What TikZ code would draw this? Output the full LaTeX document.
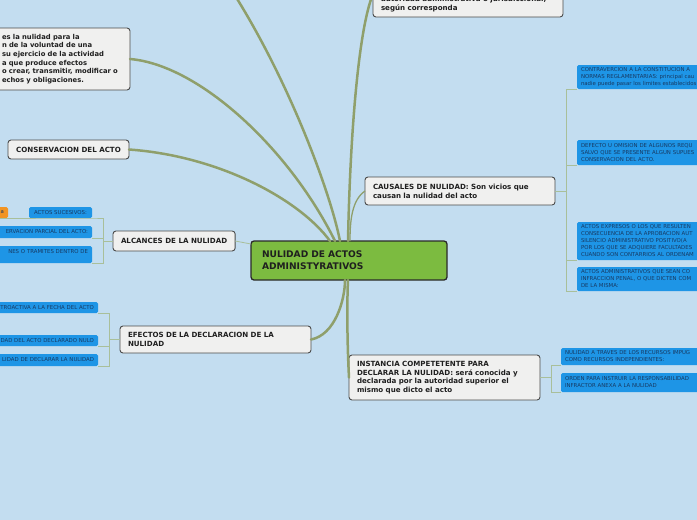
\documentclass[tikz,border=0pt]{standalone}
\usepackage{fontspec}
\setmainfont{DejaVu Sans}
\definecolor{mapbg}{HTML}{C3DDF0}
\definecolor{mapolive}{HTML}{8F9F6B}
\definecolor{twigline}{HTML}{A9BF9A}
\definecolor{topicfill}{HTML}{F0F0EF}
\definecolor{topicline}{HTML}{4A4A4A}
\definecolor{topicink}{HTML}{1F1F1F}
\definecolor{hubgreen}{HTML}{7CBB40}
\definecolor{hubline}{HTML}{2A2A2A}
\definecolor{leafblue}{HTML}{1E95E6}
\definecolor{leafink}{HTML}{173A63}
\definecolor{leaforange}{HTML}{F29422}
\newcommand\topicfont{\fontsize{7.1}{8.7}\selectfont\bfseries}
\newcommand\narrowfont{\fontsize{6.8}{8.7}\selectfont\bfseries}
\newcommand\hubfont{\fontsize{9.1}{12}\selectfont\bfseries}
\newcommand\leaffont{\fontsize{5.4}{7}\selectfont}

\begin{document}
\begin{tikzpicture}[
  x=1pt,
  y=-1pt,
  every node/.style={inner sep=0pt, outer sep=0pt},
  hubbox/.style={draw=hubline, fill=hubgreen, line width=1.3pt, rounded corners=3pt,
    font=\hubfont, text=topicink, align=left, inner xsep=11pt, anchor=north west},
  topic/.style={draw=topicline, fill=topicfill, line width=0.9pt, rounded corners=3pt,
    font=\topicfont, text=topicink, align=left, inner xsep=8pt, anchor=north west},
  leaf/.style={fill=leafblue, rounded corners=1.5pt, font=\leaffont, text=leafink,
    align=left, inner xsep=4pt, anchor=north west},
  leftleaf/.style={leaf, align=right, anchor=north east, text width=120pt},
  branch/.style={mapolive, line width=2.5pt, line cap=round},
  thinbranch/.style={mapolive, line width=1.3pt},
  twig/.style={twigline, line width=0.8pt}
]
  % ---- the sheet ------------------------------------------------------
  \useasboundingbox (0,0) rectangle (697,520);
  \clip (0,0) rectangle (697,520);
  \fill[mapbg] (0,0) rectangle (697,520);

  % ---- the central topic ----------------------------------------------
  \node[hubbox, text width=174pt, minimum height=39pt] (hub) at (251,241)
    {NULIDAD DE ACTOS\\ADMINISTYRATIVOS};

  % ---- main topics ----------------------------------------------------
  \node[topic, font=\narrowfont, anchor=north east, text width=120pt, minimum height=62pt]
    (defin) at (130,28)
    {es la nulidad para la\\n de la voluntad de una\\su ejercicio de la actividad\\
     a que produce efectos\\o crear, transmitir, modificar o\\echos y obligaciones.};
  \node[topic, anchor=south west, text width=174pt, minimum height=26pt] (above) at (373,17)
    {autoridad administrativa o jurisdiccional,\\según corresponda};
  \node[topic, align=center, minimum width=121pt, minimum height=19pt] (conserv) at (8,140)
    {CONSERVACION DEL ACTO};
  \node[topic, text width=174pt, minimum height=28pt] (causal) at (365,177)
    {CAUSALES DE NULIDAD: Son vicios que\\causan la nulidad del acto};
  \node[topic, align=center, minimum width=122pt, minimum height=20pt] (alcance) at (113,231)
    {ALCANCES DE LA NULIDAD};
  \node[topic, text width=175pt, minimum height=27pt] (efecto) at (120,326)
    {EFECTOS DE LA DECLARACION DE LA\\NULIDAD};
  \node[topic, text width=175pt, minimum height=45pt] (instancia) at (349,355)
    {INSTANCIA COMPETETENTE PARA\\DECLARAR LA NULIDAD: será conocida y\\
     declarada por la autoridad superior el\\mismo que dicto el acto};

  % ---- branches out of the centre -------------------------------------
  \coordinate (offtop) at (225,-20);
  \draw[branch] (offtop) .. controls (285,70) and (330,190) .. ([xshift=89pt]hub.north west);
  \draw[branch] (defin.east) .. controls (200,65) and (290,150) .. ([xshift=84pt]hub.north west);
  \draw[branch] (conserv.east) .. controls (220,156) and (300,200) .. ([xshift=79pt]hub.north west);
  \draw[branch] ([yshift=10pt]above.west) .. controls (358,30) and (350,140)
    .. ([xshift=97pt]hub.north west);
  \draw[thinbranch] (causal.west) .. controls (352,200) and (350,220) .. ([xshift=99pt]hub.north west);
  \draw[twig] (alcance.east) -- ([yshift=-3pt]hub.north west);
  \draw[branch] (efecto.east) .. controls (335,335) and (345,300) .. ([xshift=94pt]hub.south west);
  \draw[branch] (instancia.west) .. controls (347,340) and (347,300) .. ([xshift=97pt]hub.south west);

  % ---- causes ---------------------------------------------------------
  \node[leaf, text width=155pt, minimum height=24pt] (cau1) at (577,65)
    {CONTRAVERCION A LA CONSTITUCION A\\NORMAS REGLAMENTARIAS: principal cau\\
     nadie puede pasar los limites establecidos};
  \node[leaf, text width=155pt, minimum height=25pt] (cau2) at (577,140)
    {DEFECTO U OMISION DE ALGUNOS REQU\\SALVO QUE SE PRESENTE ALGUN SUPUES\\
     CONSERVACION DEL ACTO.};
  \node[leaf, text width=155pt, minimum height=38pt] (cau3) at (577,222)
    {ACTOS EXPRESOS O LOS QUE RESULTEN\\CONSECUENCIA DE LA APROBACION AUT\\
     SILENCIO ADMINISTRATIVO POSITIVO(A\\POR LOS QUE SE ADQUIERE FACULTADES\\
     CUANDO SON CONTARRIOS AL ORDENAM};
  \node[leaf, text width=155pt, minimum height=24pt] (cau4) at (577,267)
    {ACTOS ADMINISTRATIVOS QUE SEAN CO\\INFRACCION PENAL, O QUE DICTEN COM\\
     DE LA MISMA:};
  \draw[twig] (causal.east) -- ++(11,0);
  \draw[twig] (cau1.south west) -- ++(-11,0) |- (cau4.south west);
  \foreach \n in {cau2,cau3}
    \draw[twig] (\n.south west) -- ++(-11,0);

  % ---- competent authority --------------------------------------------
  \node[leaf, text width=155pt, minimum height=17pt] (ins1) at (561,348)
    {NULIDAD A TRAVES DE LOS RECURSOS IMPUG\\COMO RECURSOS INDEPENDIENTES:};
  \node[leaf, text width=155pt, minimum height=19pt] (ins2) at (561,373)
    {ORDEN PARA INSTRUIR LA RESPONSABILIDAD\\INFRACTOR ANEXA A LA NULIDAD};
  \draw[twig] (instancia.east) -- ++(11,0);
  \draw[twig] (ins1.south west) -- ++(-10,0) |- (ins2.south west);

  % ---- scope of the nullity -------------------------------------------
  \node[leftleaf, fill=leaforange, text width=22pt, minimum height=11pt] (alc0) at (8,207) {a};
  \node[leaf, align=center, text width=55pt, minimum height=11pt] (alc1) at (29,207)
    {ACTOS SUCESIVOS:};
  \node[leftleaf, minimum height=12pt] (alc2) at (92,226) {ERVACION PARCIAL DEL ACTO:};
  \node[leftleaf, minimum height=17pt] (alc3) at (92,246) {NES O TRAMITES DENTRO DE\\~};
  \draw[twig] (alcance.west) -- ++(-10,0);
  \draw[twig] (alc0.south west) -- (alc1.south east) -- ++(11,0) |- (alc3.south east);
  \draw[twig] (alc2.south east) -- ++(11,0);

  % ---- effects of the declaration -------------------------------------
  \node[leftleaf, minimum height=11pt] (efe1) at (98,302) {TROACTIVA A LA FECHA DEL ACTO};
  \node[leftleaf, minimum height=11pt] (efe2) at (98,335) {DAD DEL ACTO DECLARADO NULO};
  \node[leftleaf, minimum height=12pt] (efe3) at (98,354) {LIDAD DE DECLARAR LA NULIDAD};
  \draw[twig] (efecto.west) -- ++(-11,0);
  \draw[twig] (efe1.south east) -- ++(11,0) |- (efe3.south east);
  \draw[twig] (efe2.south east) -- ++(11,0);
\end{tikzpicture}
\end{document}
